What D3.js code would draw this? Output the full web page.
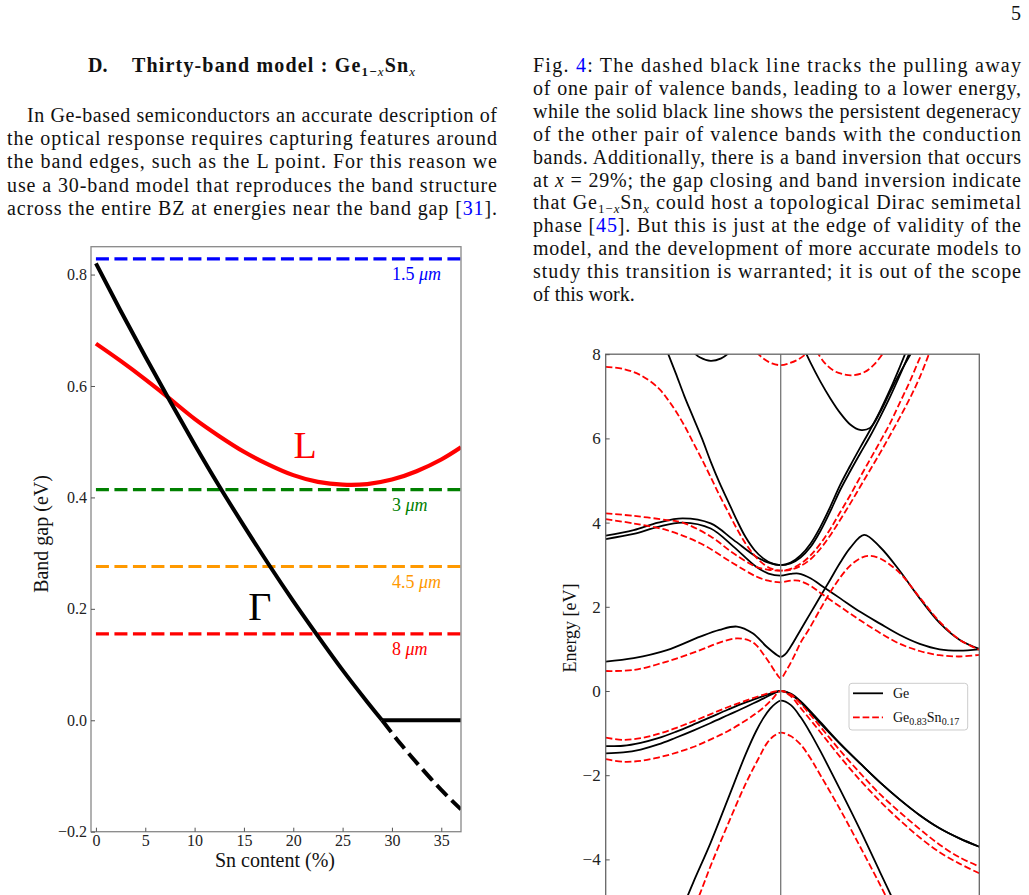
<!DOCTYPE html>
<html>
<head>
<meta charset="utf-8">
<script src="https://cdn.jsdelivr.net/npm/d3@7"></script>
<style>
  body { margin: 0; background: #fff; }
  svg text { font-family: 'Liberation Serif', 'Times New Roman', serif; }
</style>
</head>
<body>
<svg id="page" width="1029" height="895"></svg>
<script>
let d3 = window.d3;

// ---------- left chart : band gap vs Sn content ----------
const snContent   = [0, 2.5, 5, 7.5, 10, 12.5, 15, 17.5, 20, 22.5, 25, 27.5, 29];
const gammaGap    = [0.82, 0.735, 0.653, 0.573, 0.495, 0.420, 0.349, 0.280, 0.214, 0.151, 0.090, 0.033, 0.0];
const snInverted  = [29, 31, 33, 35, 37];
const gammaInverted = [0.0, -0.045, -0.086, -0.125, -0.16];
const snDegenerate  = [29, 37];
const gapDegenerate = [0, 0];
const snL   = [0, 2.5, 5, 7.5, 10, 12.5, 15, 17.5, 20, 22.5, 25, 27.5, 30, 32.5, 35, 37];
const lGap  = [0.676, 0.645, 0.612, 0.577, 0.541, 0.51, 0.482, 0.459, 0.440, 0.428, 0.423, 0.424, 0.432, 0.447, 0.468, 0.49];
const wavelengths    = ["1.5", "3", "4.5", "8"];
const wavelengthGap  = [0.828, 0.414, 0.276, 0.155];
const wavelengthColor = ["#0000ff", "#008000", "#ff9900", "#ff0000"];
const snTicks  = [0, 5, 10, 15, 20, 25, 30, 35];
const gapTicks = [-0.2, 0.0, 0.2, 0.4, 0.6, 0.8];

// ---------- right chart : band structure L - Gamma - X ----------
// k: 0 = L, 1 = Gamma, 2 = X
const geHeavyHole = [[0,-1.31],[0.1,-1.30],[0.2,-1.23],[0.3,-1.12],[0.4,-0.97],[0.5,-0.80],[0.6,-0.62],[0.7,-0.44],[0.8,-0.27],[0.9,-0.12],[1,0],[1.05,-0.06],[1.1,-0.24],[1.2,-0.74],[1.3,-1.25],[1.4,-1.72],[1.5,-2.17],[1.6,-2.58],[1.7,-2.95],[1.8,-3.26],[1.9,-3.5],[2,-3.7]];
const geLightHole = [[0,-1.48],[0.1,-1.46],[0.2,-1.39],[0.3,-1.27],[0.4,-1.11],[0.5,-0.94],[0.6,-0.76],[0.7,-0.57],[0.8,-0.38],[0.9,-0.18],[1,0],[1.05,-0.08],[1.1,-0.27],[1.2,-0.77],[1.3,-1.26],[1.4,-1.72],[1.5,-2.17],[1.6,-2.58],[1.7,-2.95],[1.8,-3.26],[1.9,-3.5],[2,-3.7]];
const geSplitOff  = [[0.4,-5.55],[0.45,-5.05],[0.5,-4.55],[0.6,-3.6],[0.7,-2.55],[0.8,-1.5],[0.86,-0.95],[0.9,-0.65],[0.94,-0.42],[0.97,-0.3],[1,-0.23],[1.05,-0.33],[1.1,-0.62],[1.15,-1.0],[1.2,-1.43],[1.3,-2.35],[1.4,-3.3],[1.5,-4.3],[1.6,-5.3]];
const geCond1 = [[0,0.70],[0.16,0.78],[0.35,0.97],[0.54,1.29],[0.65,1.45],[0.75,1.53],[0.84,1.37],[0.92,1.05],[0.98,0.85],[1,0.81],[1.02,0.86],[1.05,1.05],[1.1,1.45],[1.15,1.85],[1.2,2.25],[1.25,2.65],[1.3,3.05],[1.35,3.4],[1.42,3.71],[1.5,3.42],[1.6,2.85],[1.7,2.2],[1.8,1.62],[1.9,1.22],[2,1.0]];
const geCond2 = [[0,3.61],[0.16,3.73],[0.3,3.9],[0.44,4.0],[0.6,3.86],[0.73,3.43],[0.86,2.95],[0.93,2.79],[1,2.74],[1.05,2.78],[1.09,2.79],[1.15,2.68],[1.2,2.52],[1.3,2.2],[1.4,1.88],[1.5,1.6],[1.6,1.33],[1.7,1.12],[1.8,0.99],[1.9,0.96],[2,0.99]];
const geCond3 = [[0,3.69],[0.16,3.82],[0.3,4.0],[0.44,4.1],[0.6,3.98],[0.73,3.59],[0.86,3.19],[0.93,3.05],[1,2.99],[1.05,3.03],[1.1,3.17],[1.15,3.42],[1.2,3.8],[1.25,4.27],[1.3,4.78],[1.35,5.22],[1.4,5.64],[1.45,6.05],[1.5,6.5],[1.55,6.98],[1.6,7.5],[1.65,8.05]];
const geCond4 = [[0.35,8.08],[0.4,7.55],[0.45,7.0],[0.5,6.5],[0.55,6.0],[0.6,5.45],[0.65,4.95],[0.7,4.5],[0.75,4.05],[0.8,3.65],[0.85,3.35],[0.9,3.15],[0.95,3.03],[1,2.99],[1.05,3.05],[1.1,3.22],[1.15,3.5],[1.2,3.9],[1.25,4.38],[1.3,4.9],[1.35,5.35],[1.4,5.78],[1.45,6.2],[1.5,6.65],[1.55,7.15],[1.6,7.7],[1.63,8.05]];
const geCond5 = [[1.12,8.1],[1.15,7.8],[1.2,7.35],[1.25,6.95],[1.3,6.6],[1.35,6.33],[1.4,6.2],[1.45,6.25],[1.5,6.62],[1.55,7.1],[1.6,7.55],[1.66,8.05]];
const geCond6 = [[0.5,8.05],[0.54,7.92],[0.6,7.84],[0.66,7.9],[0.71,8.05]];

const snHeavyHole = [[0,-1.11],[0.1,-1.16],[0.2,-1.12],[0.3,-1.02],[0.4,-0.88],[0.5,-0.72],[0.6,-0.55],[0.7,-0.38],[0.8,-0.23],[0.9,-0.09],[1,0],[1.05,-0.08],[1.1,-0.3],[1.2,-0.85],[1.3,-1.42],[1.4,-1.95],[1.5,-2.45],[1.6,-2.88],[1.7,-3.28],[1.8,-3.65],[1.9,-3.95],[2,-4.17]];
const snLightHole = [[0,-1.62],[0.1,-1.68],[0.2,-1.66],[0.3,-1.58],[0.4,-1.47],[0.5,-1.33],[0.6,-1.15],[0.7,-0.95],[0.8,-0.7],[0.86,-0.53],[0.9,-0.4],[0.95,-0.2],[1,0],[1.05,-0.12],[1.1,-0.4],[1.2,-0.98],[1.3,-1.57],[1.4,-2.12],[1.5,-2.62],[1.6,-3.07],[1.7,-3.48],[1.8,-3.83],[1.9,-4.1],[2,-4.33]];
const snSplitOff  = [[0.45,-5.7],[0.5,-5.2],[0.54,-4.8],[0.6,-4.15],[0.7,-3.15],[0.8,-2.2],[0.88,-1.55],[0.92,-1.25],[0.96,-1.07],[1,-0.99],[1.05,-1.07],[1.1,-1.27],[1.15,-1.6],[1.2,-2.0],[1.3,-2.82],[1.4,-3.7],[1.5,-4.6],[1.6,-5.55]];
const snCond1 = [[0,0.475],[0.16,0.50],[0.35,0.70],[0.54,0.97],[0.65,1.15],[0.75,1.25],[0.82,1.2],[0.86,1.09],[0.9,0.88],[0.94,0.64],[0.97,0.45],[1,0.30],[1.03,0.5],[1.07,0.85],[1.1,1.15],[1.14,1.45],[1.2,1.95],[1.25,2.35],[1.3,2.7],[1.35,2.98],[1.4,3.15],[1.44,3.21],[1.5,3.15],[1.6,2.8],[1.7,2.22],[1.8,1.65],[1.9,1.22],[2,0.98]];
const snCond2 = [[0,4.08],[0.16,3.98],[0.35,3.82],[0.54,3.51],[0.73,3.03],[0.86,2.72],[0.93,2.62],[1,2.58],[1.05,2.62],[1.09,2.62],[1.15,2.5],[1.2,2.33],[1.3,2.0],[1.4,1.68],[1.5,1.38],[1.6,1.12],[1.7,0.95],[1.8,0.85],[1.9,0.82],[2,0.86]];
const snCond3 = [[0,4.22],[0.16,4.16],[0.35,4.06],[0.44,4.0],[0.6,3.67],[0.73,3.27],[0.86,2.95],[0.93,2.88],[1,2.86],[1.05,2.88],[1.1,2.97],[1.15,3.13],[1.2,3.38],[1.25,3.7],[1.3,4.07],[1.35,4.45],[1.4,4.85],[1.45,5.25],[1.5,5.65],[1.55,6.07],[1.6,6.5],[1.65,6.95],[1.7,7.45],[1.75,8.05]];
const snCond4 = [[0,7.7],[0.1,7.65],[0.2,7.5],[0.3,7.2],[0.35,6.95],[0.4,6.65],[0.45,6.3],[0.5,5.9],[0.55,5.5],[0.6,5.08],[0.65,4.65],[0.7,4.25],[0.75,3.85],[0.8,3.5],[0.85,3.22],[0.9,3.02],[0.95,2.9],[1,2.86],[1.05,2.9],[1.1,3.02],[1.15,3.22],[1.2,3.5],[1.25,3.85],[1.3,4.25],[1.35,4.65],[1.4,5.08],[1.45,5.5],[1.5,5.92],[1.55,6.35],[1.6,6.85],[1.65,7.35],[1.7,7.9],[1.72,8.08]];
const snCond5 = [[1.18,8.08],[1.22,7.8],[1.27,7.6],[1.32,7.52],[1.36,7.5],[1.42,7.57],[1.47,7.75],[1.52,8.05]];
const snCond6 = [[0.86,8.05],[0.9,7.9],[0.95,7.78],[1,7.74],[1.04,7.78],[1.09,7.88],[1.14,8.05]];

const geBands = [geHeavyHole, geLightHole, geSplitOff, geCond1, geCond2, geCond3, geCond4, geCond5, geCond6];
const snBands = [snHeavyHole, snLightHole, snSplitOff, snCond1, snCond2, snCond3, snCond4, snCond5, snCond6];
const energyTicks = [-4, -2, 0, 2, 4, 6, 8];
const legendLabels = ["Ge", "Ge0.83Sn0.17"];

const svg = d3.select("#page");
svg.append("rect").attr("width", 1029).attr("height", 895).attr("fill", "#fff");

// ---------- page text ----------
const INK = "#111";
const LINK = "#0000ff";

// parts: [text, style]  style: "" | "sub" | "it" | "link"
function textLine(x, y, parts, width, size, weight) {
    let t = svg.append("text")
        .attr("x", x).attr("y", y)
        .attr("font-size", size || 20)
        .attr("font-weight", weight || "normal")
        .attr("fill", INK);
    let down = false;
    parts.forEach(function (p) {
        let ts = t.append("tspan").text(p[0]);
        let style = p[1] || "";
        if (style.indexOf("sub") >= 0) {
            ts.attr("font-size", 13);
            if (!down) { ts.attr("dy", 3.5); down = true; }
        } else if (down) {
            ts.attr("dy", -3.5); down = false;
        }
        if (style.indexOf("it") >= 0) ts.attr("font-style", "italic").attr("font-weight", "normal");
        if (style.indexOf("link") >= 0) ts.attr("fill", LINK);
    });
    if (width) t.attr("textLength", width).attr("lengthAdjust", "spacing");
    return t;
}

textLine(88, 72, [["D."]], null, 20, "bold");
textLine(132, 72, [["Thirty-band model : Ge"], ["1−", "sub"], ["x", "sub it"], ["Sn"], ["x", "sub it"]], 283, 20, "bold");

const leftPara = [
    [27, [["In Ge-based semiconductors an accurate description of"]], 470],
    [7, [["the optical response requires capturing features around"]], 490],
    [7, [["the band edges, such as the L point. For this reason we"]], 490],
    [7, [["use a 30-band model that reproduces the band structure"]], 490],
    [7, [["across the entire BZ at energies near the band gap ["], ["31", "link"], ["]."]], 490]
];
leftPara.forEach(function (l, i) { textLine(l[0], 122 + i * 23.2, l[1], l[2]); });

const rightPara = [
    [[["Fig.  "], ["4", "link"], [":  The dashed black line tracks the pulling away"]], 488],
    [[["of one pair of valence bands, leading to a lower energy,"]], 488],
    [[["while the solid black line shows the persistent degeneracy"]], 488],
    [[["of the other pair of valence bands with the conduction"]], 488],
    [[["bands. Additionally, there is a band inversion that occurs"]], 488],
    [[["at "], ["x", "it"], [" = 29%; the gap closing and band inversion indicate"]], 488],
    [[["that Ge"], ["1−", "sub"], ["x", "sub it"], ["Sn"], ["x", "sub it"], [" could host a topological Dirac semimetal"]], 488],
    [[["phase ["], ["45", "link"], ["]. But this is just at the edge of validity of the"]], 488],
    [[["model, and the development of more accurate models to"]], 488],
    [[["study this transition is warranted; it is out of the scope"]], 488],
    [[["of this work."]], null]
];
rightPara.forEach(function (l, i) { textLine(533, 72 + i * 22.9, l[0], l[1]); });

svg.append("text").attr("x", 1021).attr("y", 20).attr("text-anchor", "end")
    .attr("font-size", 20).attr("fill", INK).text("5");

// ---------- left chart ----------
const L = { left: 91, right: 461, top: 246.7, bottom: 831.7 };
const x1 = d3.scaleLinear().domain([-0.5, 37]).range([L.left, L.right]);
const y1 = d3.scaleLinear().domain([-0.2, 0.85]).range([L.bottom, L.top]);

svg.append("clipPath").attr("id", "clipL").append("rect")
    .attr("x", L.left).attr("y", L.top).attr("width", L.right - L.left).attr("height", L.bottom - L.top);

const chartL = svg.append("g").attr("clip-path", "url(#clipL)");

wavelengthGap.forEach(function (g, i) {
    chartL.append("line")
        .attr("x1", x1(0)).attr("x2", x1(37))
        .attr("y1", y1(g)).attr("y2", y1(g))
        .attr("stroke", wavelengthColor[i]).attr("stroke-width", 3.2)
        .attr("stroke-dasharray", "13,5.5");
});

const line1 = d3.line().x(d => x1(d[0])).y(d => y1(d[1])).curve(d3.curveNatural);

chartL.append("path").datum(d3.zip(snL, lGap)).attr("d", line1)
    .attr("fill", "none").attr("stroke", "#ff0000").attr("stroke-width", 4.2);
chartL.append("path").datum(d3.zip(snContent, gammaGap)).attr("d", line1)
    .attr("fill", "none").attr("stroke", "#000").attr("stroke-width", 4);
chartL.append("path").datum(d3.zip(snInverted, gammaInverted)).attr("d", line1)
    .attr("fill", "none").attr("stroke", "#000").attr("stroke-width", 4)
    .attr("stroke-dasharray", "14.8,6.4");
chartL.append("path").datum(d3.zip(snDegenerate, gapDegenerate)).attr("d", line1)
    .attr("fill", "none").attr("stroke", "#000").attr("stroke-width", 4);

wavelengths.forEach(function (w, i) {
    let t = svg.append("text")
        .attr("x", x1(30)).attr("y", y1(wavelengthGap[i]) + 21)
        .attr("font-size", 18).attr("fill", wavelengthColor[i]);
    t.append("tspan").text(w + " ");
    t.append("tspan").attr("font-style", "italic").text("μm");
});

svg.append("text").attr("x", x1(21.2)).attr("y", y1(0.471)).attr("text-anchor", "middle")
    .attr("font-size", 38).attr("fill", "#ff0000").text("L");
svg.append("text").attr("x", x1(16.6)).attr("y", y1(0.1795)).attr("text-anchor", "middle")
    .attr("font-size", 40).attr("fill", "#000").text("Γ");

svg.append("rect")
    .attr("x", L.left).attr("y", L.top).attr("width", L.right - L.left).attr("height", L.bottom - L.top)
    .attr("fill", "none").attr("stroke", "#888").attr("stroke-width", 1.3);

let axB = svg.append("g").attr("transform", "translate(0," + L.bottom + ")")
    .call(d3.axisBottom(x1).tickValues(snTicks).tickSizeInner(-4).tickSizeOuter(0).tickPadding(3));
let axL = svg.append("g").attr("transform", "translate(" + L.left + ",0)")
    .call(d3.axisLeft(y1).tickValues(gapTicks).tickFormat(d3.format(".1f")).tickSizeInner(-4).tickSizeOuter(0).tickPadding(4));
[axB, axL].forEach(function (a) {
    a.select(".domain").remove();
    a.selectAll(".tick line").attr("stroke", "#555");
    a.selectAll("text").attr("font-size", 16).attr("fill", "#222")
        .attr("font-family", "'Liberation Serif', serif");
});

svg.append("text").attr("x", 275).attr("y", 867).attr("text-anchor", "middle")
    .attr("font-size", 20).attr("fill", "#111").text("Sn content (%)");
svg.append("text").attr("transform", "translate(48,534)rotate(-90)").attr("text-anchor", "middle")
    .attr("font-size", 20).attr("fill", "#111").text("Band gap (eV)");

// ---------- right chart ----------
const R = { left: 605.7, gamma: 780.7, right: 979.3, top: 354.2, bottom: 943.6 };
const x2 = d3.scaleLinear().domain([0, 1, 2]).range([R.left, R.gamma, R.right]);
const y2 = d3.scaleLinear().domain([-6, 8]).range([R.bottom, R.top]);

svg.append("clipPath").attr("id", "clipR").append("rect")
    .attr("x", R.left).attr("y", R.top).attr("width", R.right - R.left).attr("height", R.bottom - R.top);

const chartR = svg.append("g").attr("clip-path", "url(#clipR)");
const line2 = d3.line().x(d => x2(d[0])).y(d => y2(d[1])).curve(d3.curveCatmullRom.alpha(0.5));

chartR.selectAll(".ge").data(geBands).enter().append("path")
    .attr("class", "ge").attr("d", line2)
    .attr("fill", "none").attr("stroke", "#000").attr("stroke-width", 1.8);
chartR.selectAll(".gesn").data(snBands).enter().append("path")
    .attr("class", "gesn").attr("d", line2)
    .attr("fill", "none").attr("stroke", "#ff0000").attr("stroke-width", 1.8)
    .attr("stroke-dasharray", "6.7,2.9");

svg.append("line").attr("x1", x2(1)).attr("x2", x2(1)).attr("y1", R.top).attr("y2", R.bottom)
    .attr("stroke", "#777").attr("stroke-width", 1.3);
svg.append("rect")
    .attr("x", R.left).attr("y", R.top).attr("width", R.right - R.left).attr("height", R.bottom - R.top)
    .attr("fill", "none").attr("stroke", "#666").attr("stroke-width", 1.3);

let axR = svg.append("g").attr("transform", "translate(" + R.left + ",0)")
    .call(d3.axisLeft(y2).tickValues(energyTicks).tickFormat(d3.format("d")).tickSizeInner(-4).tickSizeOuter(0).tickPadding(5));
axR.select(".domain").remove();
axR.selectAll(".tick line").attr("stroke", "#555");
axR.selectAll("text").attr("font-size", 17).attr("fill", "#222")
    .attr("font-family", "'Liberation Serif', serif");

svg.append("text").attr("transform", "translate(576,628)rotate(-90)").attr("text-anchor", "middle")
    .attr("font-size", 18).attr("fill", "#111").text("Energy [eV]");

// legend
const legend = svg.append("g").attr("transform", "translate(849,683.3)");
legend.append("rect").attr("width", 118.7).attr("height", 46.7).attr("rx", 3)
    .attr("fill", "#fff").attr("fill-opacity", 0.85).attr("stroke", "#ccc").attr("stroke-width", 1);
legendLabels.forEach(function (lab, i) {
    let yy = 10 + i * 24;
    legend.append("line").attr("x1", 4).attr("x2", 34).attr("y1", yy).attr("y2", yy)
        .attr("stroke", i === 0 ? "#000" : "#ff0000").attr("stroke-width", 1.8)
        .attr("stroke-dasharray", i === 0 ? null : "6.7,2.9");
    let t = legend.append("text").attr("x", 44).attr("y", yy + 5).attr("font-size", 14).attr("fill", "#111");
    if (i === 0) {
        t.text(lab);
    } else {
        t.append("tspan").text("Ge");
        t.append("tspan").attr("font-size", 10).attr("dy", 3).text("0.83");
        t.append("tspan").attr("dy", -3).text("Sn");
        t.append("tspan").attr("font-size", 10).attr("dy", 3).text("0.17");
    }
});
</script>
</body>
</html>
